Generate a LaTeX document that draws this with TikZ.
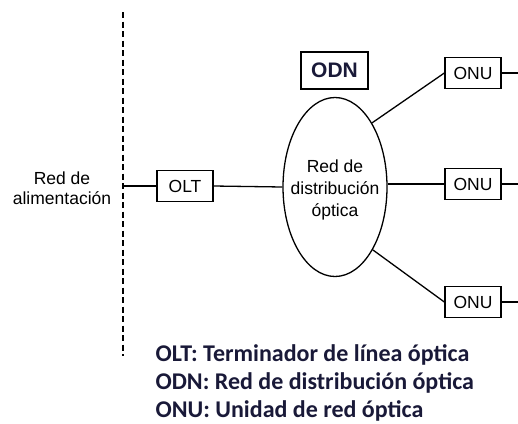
\documentclass[tikz,border=0pt]{standalone}
\usepackage{fontspec}
\setmainfont{Liberation Sans}
\newfontfamily\legendfont{Carlito}
\usetikzlibrary{shapes.geometric}
\definecolor{legendcol}{rgb}{0.1,0.1,0.22}
\begin{document}
\begin{tikzpicture}[x=1pt,y=-1pt,
  line width=1.3pt,
  box/.style={draw,rectangle,minimum width=56pt,minimum height=31pt,inner sep=0pt,font=\fontsize{17.5}{18}\selectfont},
  lbl/.style={font=\fontsize{17.5}{19.5}\selectfont,align=center},
  legend/.style={font=\legendfont\bfseries\fontsize{24}{28}\selectfont,anchor=west,text=legendcol,inner sep=0pt}]
\useasboundingbox (0,0) rectangle (518,423);
% dashed boundary
\coordinate (dtop) at (123,12);
\coordinate (dbot) at (123,356);
\draw[line width=1.6pt,dash pattern=on 6pt off 3.5pt] (dtop) -- (dbot);
\node[lbl] (feed) at (62,188) {Red de\\alimentación};
\coordinate (dl) at (124,186);
\node[box] (olt) at (185,186) {OLT};
\node[draw,ellipse,minimum width=104pt,minimum height=179pt,inner sep=0pt] (odn) at (335,187) {};
\node[lbl,font=\fontsize{17.5}{22}\selectfont] (odntext) at (335,190) {Red de\\distribución\\óptica};
\node[draw,rectangle,minimum width=67pt,minimum height=37pt,inner sep=0pt,font=\bfseries\fontsize{21}{24}\selectfont,text=legendcol] (odnlabel) at (334.5,70.5) {ODN};
\node[box] (onu1) at (473,73) {ONU};
\node[box] (onu2) at (473,184) {ONU};
\node[box] (onu3) at (473,302) {ONU};
\coordinate (e1) at (518,73);
\coordinate (e2) at (518,184);
\coordinate (e3) at (518,302);
\draw (dl) -- (olt.west);
\draw (olt.east) -- (odn.west);
\draw (odn.60) -- (onu1.west);
\draw (odn.east |- onu2.west) -- (onu2.west);
\draw (odn.-59) -- (onu3.west);
\draw (onu1.east) -- (e1);
\draw (onu2.east) -- (e2);
\draw (onu3.east) -- (e3);
\node[legend] (l1) at (155,355) {OLT: Terminador de línea óptica};
\node[legend] (l2) at (155,383) {ODN: Red de distribución óptica};
\node[legend] (l3) at (155,411) {ONU: Unidad de red óptica};
\end{tikzpicture}
\end{document}
